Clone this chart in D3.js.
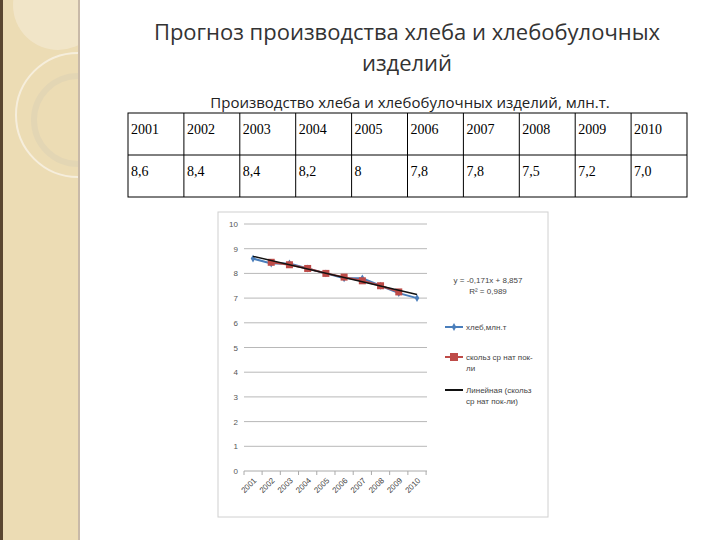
<!DOCTYPE html>
<html><head><meta charset="utf-8">
<script src="https://cdn.jsdelivr.net/npm/d3@7"></script>
<style>body{margin:0;background:#fff}svg{display:block}</style>
</head><body><div id="slide"></div>
<script>
// data
var years = ["2001","2002","2003","2004","2005","2006","2007","2008","2009","2010"];
var bread = [8.6, 8.4, 8.4, 8.2, 8.0, 7.8, 7.8, 7.5, 7.2, 7.0];
var tableVals = ["8,6","8,4","8,4","8,2","8","7,8","7,8","7,5","7,2","7,0"];
var movAvgYears = ["2002","2003","2004","2005","2006","2007","2008","2009"];
var movAvg = [8.45, 8.35, 8.2, 8.0, 7.85, 7.7, 7.5, 7.25];
var trendYears = ["2001","2010"];
var trend = [8.69, 7.15];
var yTicks = [0,1,2,3,4,5,6,7,8,9,10];
var legendLabels = [["хлеб,млн.т"],["скольз ср нат пок-","ли"],["Линейная (скольз","ср нат пок-ли)"]];

var svg = d3.select("#slide").append("svg").attr("width", 720).attr("height", 540);

// left decorative strip
svg.append("rect").attr("x", 0).attr("y", 0).attr("width", 79).attr("height", 540).attr("fill", "#ecdcb4");
svg.append("clipPath").attr("id", "strip").append("rect").attr("width", 79).attr("height", 540);
var deco = svg.append("g").attr("clip-path", "url(#strip)");
deco.append("circle").attr("cx", 58).attr("cy", 5).attr("r", 45).attr("fill", "#f3e8d0").attr("opacity", 0.7);
deco.append("circle").attr("cx", 78).attr("cy", 115).attr("r", 62).attr("fill", "none").attr("stroke", "#f6eedc").attr("stroke-width", 2);
deco.append("circle").attr("cx", 78).attr("cy", 120).attr("r", 44).attr("fill", "none").attr("stroke", "#e3d6b4").attr("stroke-width", 6);
svg.append("rect").attr("x", 0).attr("y", 0).attr("width", 3).attr("height", 540).attr("fill", "#5a4630");
svg.append("rect").attr("x", 78).attr("y", 0).attr("width", 2).attr("height", 540).attr("fill", "#c8b9a8");

// titles
svg.append("text").attr("x", 407).attr("y", 40).attr("text-anchor", "middle")
  .style("font", "22px 'Open Sans'").attr("fill", "#333").text("Прогноз производства хлеба и хлебобулочных");
svg.append("text").attr("x", 407).attr("y", 71).attr("text-anchor", "middle")
  .style("font", "22px 'Open Sans'").attr("fill", "#333").text("изделий");
svg.append("text").attr("x", 410).attr("y", 108).attr("text-anchor", "middle")
  .style("font", "15px 'Open Sans'").attr("fill", "#222").text("Производство хлеба и хлебобулочных изделий, млн.т.");

// table
var tx = d3.scaleBand().domain(years).range([128, 687]);
var rows = [years, tableVals];
rows.forEach(function(r, ri) {
  svg.selectAll(null).data(r).enter().append("text")
    .attr("x", (d, i) => tx(years[i]) + 3)
    .attr("y", 134 + ri * 42)
    .style("font", "14px 'Liberation Serif'").attr("fill", "#000").text(d => d);
});
svg.append("rect").attr("x", 128).attr("y", 113).attr("width", 559).attr("height", 84)
  .attr("fill", "none").attr("stroke", "#000");
svg.append("line").attr("x1", 128).attr("x2", 687).attr("y1", 155).attr("y2", 155).attr("stroke", "#000");
svg.selectAll(null).data(years.slice(1)).enter().append("line")
  .attr("x1", d => tx(d)).attr("x2", d => tx(d)).attr("y1", 113).attr("y2", 197).attr("stroke", "#000");

// chart frame
svg.append("rect").attr("x", 218).attr("y", 212).attr("width", 330).attr("height", 305)
  .attr("fill", "#fff").attr("stroke", "#d0d0d0");

var x = d3.scalePoint().domain(years).range([253, 417]);
var y = d3.scaleLinear().domain([0, 10]).range([471, 224]);

var g = svg.append("g");
g.selectAll(null).data(yTicks.slice(1)).enter().append("line")
  .attr("x1", 244).attr("x2", 427).attr("y1", d => y(d)).attr("y2", d => y(d)).attr("stroke", "#b8b8b8");
g.append("g").attr("transform", "translate(244,0)")
  .call(d3.axisLeft(y).tickValues(yTicks).tickSize(0).tickPadding(6))
  .call(a => a.select(".domain").remove())
  .selectAll("text").style("font", "8px Arial").attr("fill", "#555");
g.append("line").attr("x1", 244).attr("x2", 427).attr("y1", y(0)).attr("y2", y(0)).attr("stroke", "#aaa");
g.selectAll(null).data([244].concat(years.map(d => x(d) + 9.1))).enter().append("line")
  .attr("x1", d => d).attr("x2", d => d).attr("y1", y(0)).attr("y2", y(0) + 4).attr("stroke", "#aaa");
g.selectAll(null).data(years).enter().append("text")
  .attr("transform", d => "translate(" + (x(d) + 4) + "," + (y(0) + 10) + ") rotate(-45)")
  .attr("text-anchor", "end").style("font", "8px Arial").attr("fill", "#444").text(d => d);

// series
var line = d3.line();
g.append("path").attr("d", line(years.map((d, i) => [x(d), y(bread[i])])))
  .attr("fill", "none").attr("stroke", "#4a7ebb").attr("stroke-width", 2);
g.selectAll(null).data(bread).enter().append("path")
  .attr("d", d3.symbol(d3.symbolDiamond, 18)).attr("fill", "#4a7ebb")
  .attr("transform", (d, i) => "translate(" + x(years[i]) + "," + y(d) + ")");
g.append("path").attr("d", line(movAvgYears.map((d, i) => [x(d), y(movAvg[i])])))
  .attr("fill", "none").attr("stroke", "#be4b48").attr("stroke-width", 2);
g.selectAll(null).data(movAvg).enter().append("rect")
  .attr("x", (d, i) => x(movAvgYears[i]) - 3.5).attr("y", d => y(d) - 3.5)
  .attr("width", 7).attr("height", 7).attr("fill", "#be4b48");
g.append("path").attr("d", line(trendYears.map((d, i) => [x(d), y(trend[i])])))
  .attr("fill", "none").attr("stroke", "#111").attr("stroke-width", 1.5);

// equation
svg.append("text").attr("x", 488).attr("y", 283).attr("text-anchor", "middle")
  .style("font", "8px Arial").attr("fill", "#444").text("y = -0,171x + 8,857");
svg.append("text").attr("x", 488).attr("y", 294).attr("text-anchor", "middle")
  .style("font", "8px Arial").attr("fill", "#444").text("R² = 0,989");

// legend
var ly = [327, 357, 390];
var lcol = ["#4a7ebb", "#be4b48", "#111"];
legendLabels.forEach(function(lab, i) {
  svg.append("line").attr("x1", 445).attr("x2", 463).attr("y1", ly[i]).attr("y2", ly[i])
    .attr("stroke", lcol[i]).attr("stroke-width", 2);
  if (i == 0) svg.append("path").attr("d", d3.symbol(d3.symbolDiamond, 18)).attr("fill", lcol[0]).attr("transform", "translate(454," + ly[i] + ")");
  if (i == 1) svg.append("rect").attr("x", 450).attr("y", ly[i] - 4).attr("width", 8).attr("height", 8).attr("fill", lcol[1]);
  lab.forEach(function(t, j) {
    svg.append("text").attr("x", 466).attr("y", ly[i] + 3 + j * 11)
      .style("font", "8px Arial").attr("fill", "#444").text(t);
  });
});
</script></body></html>
